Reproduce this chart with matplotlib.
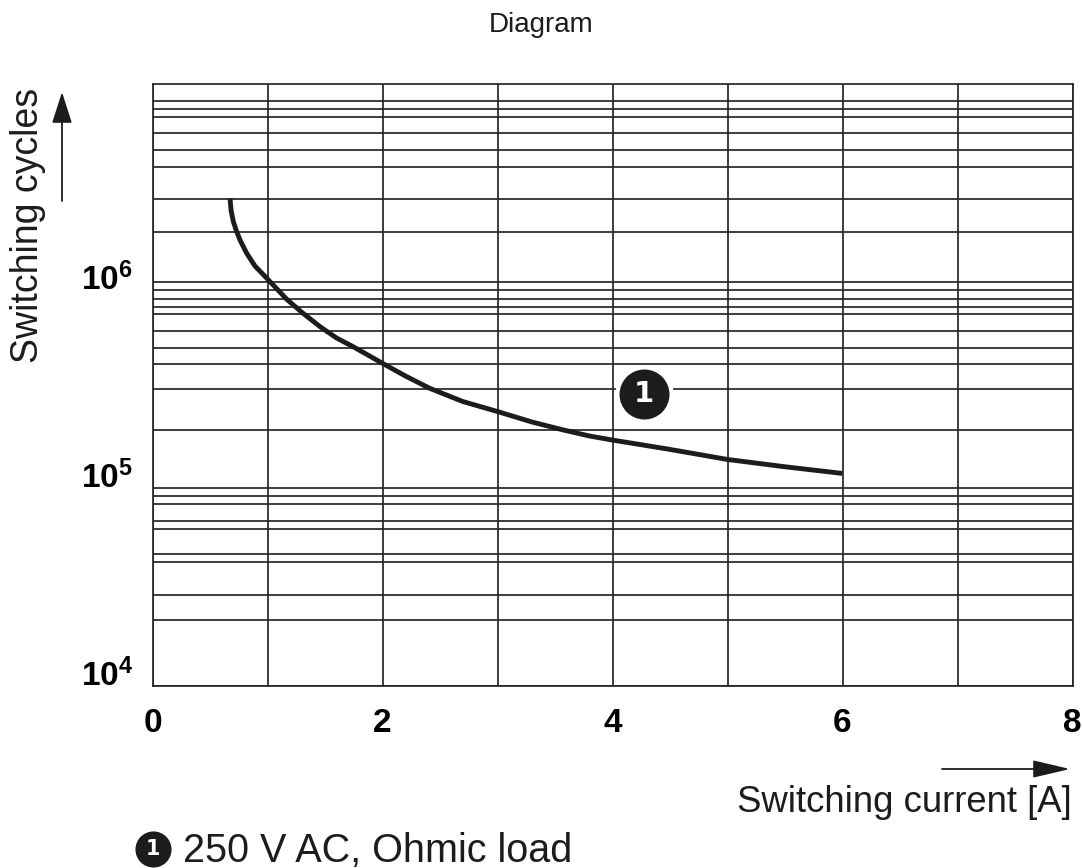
import matplotlib
matplotlib.use('Agg')
import matplotlib.pyplot as plt
from matplotlib.lines import Line2D

plt.rcParams['font.family'] = ['Liberation Sans', 'DejaVu Sans']
plt.rcParams['mathtext.fontset'] = 'custom'
plt.rcParams['mathtext.rm'] = 'Liberation Sans'
plt.rcParams['mathtext.bf'] = 'Liberation Sans:bold'

# curve: switching current [A] -> switching cycles
current = [0.674, 0.683, 0.703, 0.732, 0.761, 0.819, 0.891, 0.996, 1.167, 1.3, 1.457,
           1.6, 1.746, 2.0, 2.2, 2.41, 2.7, 3.0, 3.3, 3.57, 3.8, 4.0, 4.47, 5.0, 5.49, 6.0]
cycles = [2.93e6, 2.55e6, 2.23e6, 1.985e6, 1.80e6, 1.543e6, 1.33e6, 1.15e6, 9.03e5, 7.74e5, 6.56e5,
          5.75e5, 5.19e5, 4.28e5, 3.69e5, 3.20e5, 2.74e5, 2.44e5, 2.16e5, 1.97e5, 1.835e5, 1.75e5,
          1.58e5, 1.396e5, 1.284e5, 1.186e5]

x_ticks = [0, 2, 4, 6, 8]
x_grid = [1, 3, 5, 7]
y_ticks = [1e4, 1e5, 1e6]
y_tick_labels = [r'$\mathbf{10^{4}}$', r'$\mathbf{10^{5}}$', r'$\mathbf{10^{6}}$']
# the printed grid is not a clean log grid, so the lines are listed as drawn
y_grid = [2.15e4, 2.88e4, 4.21e4, 4.62e4, 6.21e4, 6.82e4, 8.28e4, 9.15e4,
          1.97e5, 3.17e5, 4.23e5, 5.13e5, 6.24e5, 7.58e5, 8.28e5, 9.03e5, 1.108e6,
          1.97e6, 2.89e6, 4.23e6, 5.14e6, 6.24e6, 7.58e6, 8.29e6, 9.13e6]
y_top = 1.109e7

title = 'Diagram'
x_label = 'Switching current [A]'
y_label = 'Switching cycles'
curve_id = '1'
legend_text = '250 V AC, Ohmic load'

W, H = 1082, 868
ink = '#1c1c1c'
grid_c = '#262626'

fig = plt.figure(figsize=(W / 100, H / 100), dpi=100)
ax = fig.add_axes([152.5 / W, 1 - 685.7 / H, 920 / W, 601.7 / H])
ax.set_yscale('log')
ax.set_xlim(0, 8)
ax.set_ylim(1e4, y_top)

ax.set_xticks(x_ticks)
ax.set_xticks(x_grid, minor=True)
ax.set_yticks(y_ticks)
ax.set_yticklabels(y_tick_labels)
ax.set_yticks(y_grid, minor=True)
ax.yaxis.set_minor_formatter(plt.NullFormatter())
ax.tick_params(which='both', length=0)
ax.tick_params(axis='x', pad=16, labelsize=24)
ax.tick_params(axis='y', pad=14, labelsize=24)
for lbl in ax.get_xticklabels():
    lbl.set_fontweight('bold')
for lbl in ax.get_yticklabels():
    lbl.set_va('baseline')

ax.grid(which='both', color=grid_c, lw=1.25)
ax.set_axisbelow(True)
for s in ax.spines.values():
    s.set_color(grid_c)
    s.set_linewidth(1.25)

ax.plot(current, cycles, color=ink, lw=3.5, solid_capstyle='butt',
        solid_joinstyle='round', zorder=3)

# numbered marker on the curve
ax.plot([4.27], [2.98e5], 'o', ms=39, mfc=ink, mec='white', mew=3, zorder=4)
ax.text(4.27, 2.98e5, curve_id, color='white', ha='center', va='center',
        fontsize=21, fontweight='bold', family='DejaVu Sans', zorder=5)

fig.text(0.5, 1 - 25 / H, title, ha='center', va='center', fontsize=20, color=ink)

fig.text(28 / W, 1 - 88 / H, y_label, rotation=90, ha='center', va='top',
         fontsize=27, color=ink)
fig.text(1072 / W, 1 - 812 / H, x_label, ha='right', va='baseline',
         fontsize=26.3, color=ink)

# axis arrows
ax.annotate('', xy=(1070 / W, 1 - 769 / H), xytext=(942 / W, 1 - 769 / H),
            xycoords='figure fraction', textcoords='figure fraction',
            arrowprops=dict(arrowstyle='-|>,head_length=1.15,head_width=0.27',
                            mutation_scale=20, lw=1.3, color=ink,
                            shrinkA=0, shrinkB=0))
ax.annotate('', xy=(62 / W, 1 - 92 / H), xytext=(62 / W, 1 - 201 / H),
            xycoords='figure fraction', textcoords='figure fraction',
            arrowprops=dict(arrowstyle='-|>,head_length=0.97,head_width=0.31',
                            mutation_scale=20, lw=1.3, color=ink,
                            shrinkA=0, shrinkB=0))

# legend line
fig.add_artist(Line2D([152.5 / W], [1 - 849 / H], marker='o', ms=25,
                      mfc=ink, mec=ink, transform=fig.transFigure))
fig.text(152.5 / W, 1 - 849 / H, curve_id, color='white', ha='center', va='center',
         fontsize=15, fontweight='bold', family='DejaVu Sans')
fig.text(183 / W, 1 - 862 / H, legend_text, ha='left', va='baseline',
         fontsize=28.5, color=ink)

fig.savefig('out.png', dpi=100)
